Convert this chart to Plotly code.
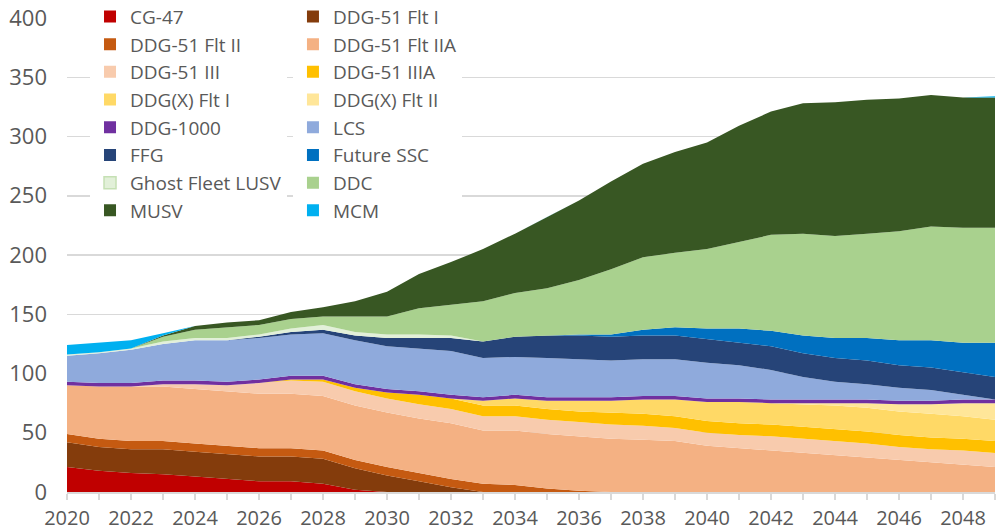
import plotly.graph_objects as go

years = [2020, 2021, 2022, 2023, 2024, 2025, 2026, 2027, 2028, 2029,
         2030, 2031, 2032, 2033, 2034, 2035, 2036, 2037, 2038, 2039,
         2040, 2041, 2042, 2043, 2044, 2045, 2046, 2047, 2048, 2049]

cg47 = [21, 18, 16, 15, 13, 11, 9, 9, 7, 2, 0, 0, 0, 0, 0, 0, 0, 0, 0, 0, 0, 0, 0, 0, 0, 0, 0, 0, 0, 0]
ddg51_flt1 = [21, 20, 20, 21, 21, 21, 21, 21, 21, 18, 14, 9, 4, 0, 0, 0, 0, 0, 0, 0, 0, 0, 0, 0, 0, 0, 0, 0, 0, 0]
ddg51_flt2 = [7, 7, 7, 7, 7, 7, 7, 7, 7, 7, 7, 7, 7, 7, 6, 3, 1, 0, 0, 0, 0, 0, 0, 0, 0, 0, 0, 0, 0, 0]
ddg51_flt2a = [41, 44, 46, 46, 46, 46, 46, 46, 46, 46, 46, 46, 47, 45, 46, 46, 46, 45, 44, 43, 39, 37, 35, 33, 31, 29, 27, 25, 23, 21]
ddg51_3 = [0, 0, 0, 2, 4, 5, 9, 11, 12, 12, 12, 12, 12, 12, 12, 12, 12, 12, 12, 11, 11, 11, 12, 12, 12, 12, 11, 11, 12, 12]
ddg51_3a = [0, 0, 0, 0, 0, 0, 0, 1, 2, 3, 5, 8, 9, 9, 9, 9, 9, 10, 10, 10, 10, 10, 10, 10, 10, 10, 10, 10, 10, 10]
ddgx_1 = [0, 0, 0, 0, 0, 0, 0, 0, 0, 0, 0, 0, 0, 4, 6, 7, 9, 10, 12, 14, 16, 18, 18, 19, 20, 20, 20, 20, 19, 18]
ddgx_2 = [0, 0, 0, 0, 0, 0, 0, 0, 0, 0, 0, 0, 0, 0, 0, 0, 0, 0, 0, 0, 0, 0, 0, 1, 2, 4, 6, 8, 11, 14]
ddg1000 = [3, 3, 3, 3, 3, 3, 3, 3, 3, 3, 3, 3, 3, 3, 3, 3, 3, 3, 3, 3, 3, 3, 3, 3, 3, 3, 3, 3, 3, 3]
lcs = [22, 25, 28, 31, 34, 35, 35, 35, 36, 37, 36, 36, 37, 33, 32, 33, 32, 31, 31, 31, 30, 28, 25, 19, 15, 13, 11, 9, 4, 0]
ffg = [0, 0, 0, 0, 0, 0, 1, 2, 3, 4, 7, 9, 11, 14, 17, 19, 20, 20, 20, 20, 20, 19, 20, 20, 20, 20, 19, 19, 19, 19]
future_ssc = [0, 0, 0, 0, 0, 0, 0, 0, 0, 0, 0, 0, 0, 0, 0, 0, 1, 2, 5, 7, 9, 12, 13, 15, 17, 19, 21, 23, 25, 29]
ghost_lusv = [1, 1, 1, 2, 2, 2, 2, 3, 4, 3, 3, 3, 2, 0, 0, 0, 0, 0, 0, 0, 0, 0, 0, 0, 0, 0, 0, 0, 0, 0]
ddc = [0, 0, 0, 4, 7, 9, 8, 8, 7, 13, 15, 22, 26, 34, 37, 40, 46, 55, 61, 63, 67, 73, 81, 86, 86, 88, 92, 96, 97, 97]
musv = [0, 0, 0, 1, 3, 4, 4, 6, 8, 13, 21, 29, 36, 44, 50, 60, 67, 74, 79, 85, 90, 98, 104, 110, 113, 113, 112, 111, 110, 110]
mcm = [8, 8, 7, 2, 0, 0, 0, 0, 0, 0, 0, 0, 0, 0, 0, 0, 0, 0, 0, 0, 0, 0, 0, 0, 0, 0, 0, 0, 0, 1]

series_names = ["CG-47", "DDG-51 Flt I", "DDG-51 Flt II", "DDG-51 Flt IIA",
                "DDG-51 III", "DDG-51 IIIA", "DDG(X) Flt I", "DDG(X) Flt II",
                "DDG-1000", "LCS", "FFG", "Future SSC",
                "Ghost Fleet LUSV", "DDC", "MUSV", "MCM"]
series_values = [cg47, ddg51_flt1, ddg51_flt2, ddg51_flt2a,
                 ddg51_3, ddg51_3a, ddgx_1, ddgx_2,
                 ddg1000, lcs, ffg, future_ssc,
                 ghost_lusv, ddc, musv, mcm]
series_colors = ["#C00000", "#843C0C", "#C55A11", "#F4B183",
                 "#F8CBAD", "#FFC000", "#FFD966", "#FFE699",
                 "#7030A0", "#8FAADC", "#264478", "#0070C0",
                 "#E2F0D9", "#A9D18E", "#385723", "#00B0F0"]

TEXT = "#595959"
GRID = "#D9D9D9"
FONT = "Open Sans"

fig = go.Figure()

for name, vals, col in zip(series_names, series_values, series_colors):
    fig.add_trace(go.Scatter(
        x=years, y=vals, name=name, mode="lines",
        stackgroup="fleet", line=dict(width=0, color=col),
        fillcolor=col, showlegend=False, hoverinfo="skip"))

# legend entries (square swatches), two columns
for i, (name, col) in enumerate(zip(series_names, series_colors)):
    is_ghost = name == "Ghost Fleet LUSV"
    fig.add_trace(go.Scatter(
        x=[None], y=[None], mode="markers", name=name,
        marker=dict(symbol="square", size=12, color=col,
                    line=dict(width=1.5 if is_ghost else 0,
                              color="#C5E0B4" if is_ghost else col)),
        legend="legend" if i % 2 == 0 else "legend2",
        hoverinfo="skip"))

legend_common = dict(
    yanchor="top", xanchor="left", y=1.043,
    bgcolor="white", borderwidth=0, orientation="v",
    font=dict(family=FONT, size=19, color=TEXT),
    traceorder="normal", tracegroupgap=0,
    itemclick=False, itemdoubleclick=False,
)

fig.update_layout(
    width=1000, height=531,
    margin=dict(l=67, r=5, t=18, b=39, autoexpand=False),
    paper_bgcolor="white", plot_bgcolor="white",
    font=dict(family=FONT, color=TEXT),
    legend=dict(x=0.0248, **legend_common),
    legend2=dict(x=0.2435, **legend_common),
    hovermode=False,
)

fig.update_xaxes(
    range=[2020, 2049], tickmode="linear", tick0=2020, dtick=2,
    ticks="outside", ticklen=6, tickwidth=1.5, tickcolor=GRID,
    showline=True, linecolor=GRID, linewidth=1.5,
    showgrid=False, zeroline=False,
    tickfont=dict(family=FONT, size=20, color=TEXT),
    ticklabelstandoff=1,
    minor=dict(tick0=2020, dtick=1, ticks="outside", ticklen=6,
               tickwidth=1.5, tickcolor=GRID, showgrid=False),
)
fig.update_yaxes(
    range=[0, 400], tickmode="linear", tick0=0, dtick=50,
    showgrid=True, gridcolor=GRID, gridwidth=1.5,
    zeroline=False, showline=False, ticks="",
    tickfont=dict(family=FONT, size=22, color=TEXT),
    ticklabelstandoff=19,
)

# remove the browser's default 8px page margin so the figure fills the view
fig.write_html("out.html",
               config={"displayModeBar": False, "staticPlot": True},
               post_script="document.body.style.margin='0';document.body.style.overflow='hidden';")
